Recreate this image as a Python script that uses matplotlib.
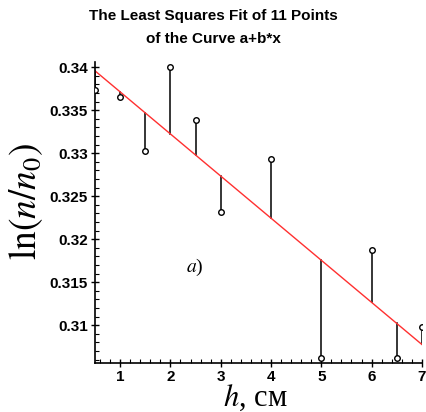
import numpy as np
import matplotlib
matplotlib.use('Agg')
import matplotlib.pyplot as plt
from matplotlib.ticker import MultipleLocator, FixedLocator

plt.rcParams['mathtext.fontset'] = 'stix'

# data
h = np.array([0.5, 1.0, 1.5, 2.0, 2.5, 3.0, 4.0, 5.0, 6.0, 6.5, 7.0])
ln_n = np.array([0.3374, 0.3365, 0.3303, 0.3400, 0.3338, 0.3231,
                 0.3293, 0.3062, 0.3187, 0.3062, 0.3098])
y_ticks = [0.31, 0.315, 0.32, 0.325, 0.33, 0.335, 0.34]
y_labels = ['0.31', '0.315', '0.32', '0.325', '0.33', '0.335', '0.34']
x_ticks = [1, 2, 3, 4, 5, 6, 7]

# least squares fit a + b*x
b, a = np.polyfit(h, ln_n, 1)
fit = a + b * h

fig = plt.figure(figsize=(4.27, 4.12), dpi=100)
ax = fig.add_axes([0.2225, 0.119, 0.7655, 0.7305])

for xi, yi, fi in zip(h, ln_n, fit):
    ax.plot([xi, xi], [yi, fi], color='black', lw=1.1)
xl = np.array([0.5, 7.0])
ax.plot(xl, a + b * xl, color='#ff3030', lw=1.0)
ax.plot(h, ln_n, 'o', ms=4, mfc='white', mec='black', mew=1.0, zorder=5)

ax.set_xlim(0.5, 7.0)
ax.set_ylim(0.3056, 0.3406)
for s in ['top', 'right']:
    ax.spines[s].set_visible(False)
ax.spines['left'].set_linewidth(1.2)
ax.spines['bottom'].set_linewidth(1.2)

ax.xaxis.set_major_locator(FixedLocator(x_ticks))
ax.xaxis.set_minor_locator(MultipleLocator(0.2))
ax.yaxis.set_major_locator(FixedLocator(y_ticks))
ax.yaxis.set_minor_locator(MultipleLocator(0.001))
ax.set_yticklabels(y_labels)
ax.tick_params(which='major', direction='inout', length=6, width=1.0, pad=2)
ax.tick_params(which='minor', direction='in', length=3, width=0.8)
for lab in ax.get_xticklabels() + ax.get_yticklabels():
    lab.set_fontfamily('Liberation Sans')
    lab.set_fontweight('bold')
    lab.set_fontsize(11)

ax.text(2.49, 0.3167, r'$a$)', fontsize=14, family='Liberation Serif',
        ha='center', va='center')

fig.text(0.062, 0.51, r'$\mathrm{ln}(n/n_0)$', fontsize=27, rotation=90,
         ha='center', va='center')
fig.text(0.598, 0.034, r'$h$, см', fontsize=22, family='Liberation Serif',
         ha='center', va='center')

fig.text(0.5, 0.962, 'The Least Squares Fit of 11 Points', fontsize=11,
         fontweight='bold', family='Liberation Sans', ha='center', va='center')
fig.text(0.5, 0.906, 'of the Curve a+b*x', fontsize=11,
         fontweight='bold', family='Liberation Sans', ha='center', va='center')

fig.savefig('out.png', dpi=100)
